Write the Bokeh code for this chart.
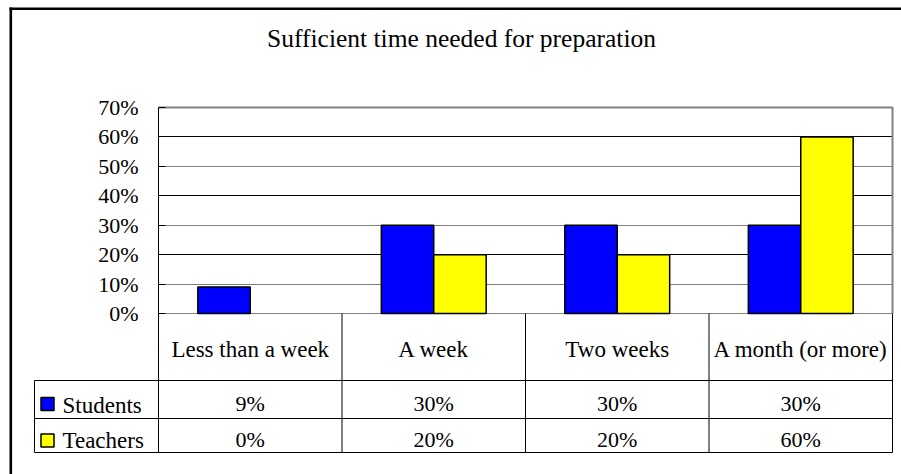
from bokeh.plotting import figure
from bokeh.models import Range1d, FixedTicker, Grid, Label
from bokeh.core.properties import value
from bokeh.embed import file_html
from bokeh.resources import INLINE

# ---------------- data ----------------
categories = ["Less than a week", "A week", "Two weeks", "A month (or more)"]
series_names = ["Students", "Teachers"]
students = [9, 30, 30, 30]
teachers = [0, 20, 20, 60]
y_ticks = [0, 10, 20, 30, 40, 50, 60, 70]
y_tick_labels = ["0%", "10%", "20%", "30%", "40%", "50%", "60%", "70%"]
title_text = "Sufficient time needed for preparation"

# ---------------- layout (page pixels) ----------------
FONT = "Liberation Serif"
BLUE, YELLOW = "#0000FF", "#FFFF00"
FIG_X, FIG_Y = 0, 0
FIG_W, FIG_H = 901, 474
CAT_L, CAT_R = 158, 892          # left of first category / right of last
VAL_TOP_PX, VAL_0_PX = 107, 313  # pixel of top value / of zero
Y_TOP = y_ticks[-1]

n = len(categories)
sx = (CAT_R - CAT_L) / n
sy = (VAL_0_PX - VAL_TOP_PX) / Y_TOP


def xd(px):
    return (px - CAT_L) / sx


def yd(px):
    return (VAL_0_PX - px) / sy


p = figure(width=FIG_W, height=FIG_H,
           x_range=Range1d(xd(FIG_X), xd(FIG_X + FIG_W)),
           y_range=Range1d(yd(FIG_Y + FIG_H), yd(FIG_Y)),
           output_backend="svg", toolbar_location=None,
           x_axis_location=None, min_border=0,
           min_border_left=0, min_border_right=0,
           min_border_top=0, min_border_bottom=0)
p.outline_line_color = None
p.background_fill_color = "white"
p.border_fill_color = "white"
p.xgrid.visible = False
p.ygrid.visible = False

# table geometry (data units)
TABLE_L = xd(34)
ROW_Y = [0, yd(380), yd(418), yd(452)]

# ---------------- y axis ----------------
ya = p.yaxis[0]
ya.fixed_location = 0
ya.ticker = FixedTicker(ticks=y_ticks)
ya.major_label_overrides = {t: l for t, l in zip(y_ticks, y_tick_labels)}
ya.bounds = (ROW_Y[-1], Y_TOP)
ya.major_tick_in = 7
ya.major_tick_out = 0
ya.minor_tick_line_color = None
ya.major_label_standoff = 20
ya.major_label_text_font = FONT
ya.major_label_text_font_size = "22px"
ya.major_label_text_color = "black"
ya.axis_line_color = "black"
ya.major_tick_line_color = "black"

# ---------------- grid lines ----------------
black_ticks = [t for t in y_ticks if t % 20 == 0 and 0 < t < Y_TOP]
gray_ticks = [t for t in y_ticks if t not in black_ticks and t < Y_TOP]
p.add_layout(Grid(dimension=1, ticker=FixedTicker(ticks=black_ticks),
                  cross_bounds=(0, n), grid_line_color="black"), "center")
p.add_layout(Grid(dimension=1, ticker=FixedTicker(ticks=gray_ticks),
                  cross_bounds=(0, n), grid_line_color="#808080"), "center")

# plot-area border (top and right, gray)
p.line(x=[0, n, n], y=[Y_TOP, Y_TOP, 0], line_color="#808080", line_width=2)

# ---------------- bars ----------------
gap = 1.5
bw = 1 / (len(series_names) + gap)
idx = list(range(n))
for vals, col, off in ((students, BLUE, -bw / 2), (teachers, YELLOW, bw / 2)):
    p.vbar(x=[i + 0.5 + off for i in idx], top=vals, bottom=0, width=bw,
           fill_color=col, line_color="black", line_width=1.5,
           line_alpha=[1 if v > 0 else 0 for v in vals])

# ---------------- data table ----------------
hy = ROW_Y[1:]
p.segment(x0=[TABLE_L] * len(hy), y0=hy, x1=[n] * len(hy), y1=hy,
          line_color="black", line_width=1)
vx = list(range(1, n + 1))
p.segment(x0=vx, y0=[0] * len(vx), x1=vx, y1=[ROW_Y[-1]] * len(vx),
          line_color="black", line_width=1)
p.segment(x0=[TABLE_L], y0=[ROW_Y[1]], x1=[TABLE_L], y1=[ROW_Y[-1]],
          line_color="black", line_width=1)

# category labels
p.text(x=[i + 0.5 for i in idx], y=[yd(349)] * n, text=categories,
       text_align="center", text_baseline="middle",
       text_font=value(FONT), text_font_size="23px", text_color="black")

# value rows
row_mid = [yd(403), yd(439)]
for vals, ym in zip((students, teachers), row_mid):
    p.text(x=[i + 0.5 for i in idx], y=[ym] * n, text=[f"{v}%" for v in vals],
           text_align="center", text_baseline="middle",
           text_font=value(FONT), text_font_size="22px", text_color="black")

# legend keys and names
p.scatter(x=[xd(47)] * 2, y=[yd(403.5), yd(440)], marker="square", size=13,
          fill_color=[BLUE, YELLOW], line_color="black", line_width=1.5)
p.text(x=[xd(62)] * 2, y=[yd(404.5), yd(440)], text=series_names,
       text_align="left", text_baseline="middle",
       text_font=value(FONT), text_font_size="23px", text_color="black")

# ---------------- title ----------------
p.add_layout(Label(x=xd(461), y=yd(37.5), text=title_text,
                   text_align="center", text_baseline="middle",
                   text_font=FONT, text_font_size="25.5px", text_color="black"))

# ---------------- outer chart border (top & left) ----------------
p.segment(x0=[xd(9), xd(10.3)], y0=[yd(8.3), yd(7)],
          x1=[xd(901), xd(10.3)], y1=[yd(8.3), yd(474)],
          line_color="black", line_width=2.6)

open("out.html", "w").write(file_html(p, INLINE))
